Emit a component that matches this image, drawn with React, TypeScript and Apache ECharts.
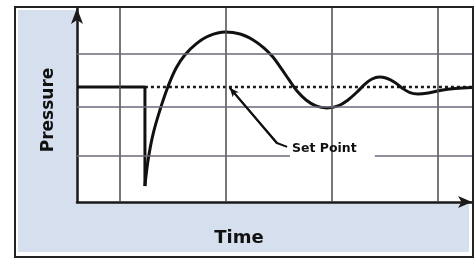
import React, { useEffect, useRef } from "react";
import * as echarts from "echarts";

// Time axis runs 0..100, pressure axis 0..100 (arbitrary units)
const stepTime = [0, 17.2, 17.2];
const stepPressure = [59.3, 59.3, 8.2];

const responseTime = [17.2, 18.0, 19.2, 21.0, 23.0, 25.1, 27.3, 30.1, 33.4, 37.5, 41.3, 44.6, 47.3, 49.6, 51.6, 53.7, 55.7, 58.0, 60.5, 63.3, 66.1, 68.6, 70.9, 72.9, 74.7, 76.5, 78.2, 80.3, 82.3, 84.3, 86.3, 88.9, 91.9, 95.7, 100];
const responsePressure = [8.2, 21.6, 34.5, 47.4, 59.3, 69.1, 75.8, 81.4, 85.6, 87.6, 86.6, 83.5, 79.4, 74.7, 69.1, 62.9, 57.2, 52.6, 49.5, 48.5, 49.5, 52.6, 56.7, 60.8, 63.4, 64.4, 63.9, 61.9, 58.8, 56.4, 55.7, 56.2, 57.5, 58.5, 59.0];

const setPointValue = 59.3;
const setPointStart = 17.2;

const gridTimes = [10.9, 37.7, 64.6, 91.4];
const gridPressures = [23.7, 49.0, 76.3];
// gap in the lowest grid line where the "Set Point" label sits
const labelGap = [53.9, 75.4];

// leader from label to set point line: end, elbow, arrow tip
const leaderTime = [53.2, 50.6, 38.7];
const leaderPressure = [28.4, 30.4, 58.8];

const yTitle = "Pressure";
const xTitle = "Time";
const setPointLabel = "Set Point";

export default function App() {
  const ref = useRef<HTMLDivElement>(null);
  useEffect(() => {
    if (!ref.current) return;
    const chart = echarts.init(ref.current, undefined, { renderer: "svg" });
    const hLines: any[] = [];
    gridPressures.forEach((p, i) => {
      if (i === 0) {
        hLines.push([{ coord: [0, p] }, { coord: [labelGap[0], p] }]);
        hLines.push([{ coord: [labelGap[1], p] }, { coord: [100, p] }]);
      } else {
        hLines.push([{ coord: [0, p] }, { coord: [100, p] }]);
      }
    });
    const font = "'DejaVu Sans', Verdana, sans-serif";
    chart.setOption({
      animation: false,
      grid: { left: 77, top: 8, width: 395, height: 194, show: true, backgroundColor: "#fff", borderWidth: 0 },
      xAxis: {
        type: "value", min: 0, max: 100,
        axisLine: { show: true, symbol: ["none", "arrow"], symbolSize: [9, 14], lineStyle: { color: "#1a1a1a", width: 2.5 } },
        axisTick: { show: false }, axisLabel: { show: false }, splitLine: { show: false },
      },
      yAxis: {
        type: "value", min: 0, max: 100,
        axisLine: { show: true, symbol: ["none", "arrow"], symbolSize: [9, 16], lineStyle: { color: "#1a1a1a", width: 2.5 } },
        axisTick: { show: false }, axisLabel: { show: false }, splitLine: { show: false },
      },
      graphic: [
        { type: "rect", z: -10, shape: { x: 15, y: 7, width: 458, height: 250 }, style: { fill: "#fff", stroke: "#222", lineWidth: 2 } },
        { type: "rect", z: -9, shape: { x: 18, y: 10, width: 451, height: 242 }, style: { fill: "#d6dfee" } },
        { type: "text", z: 10, x: 47, y: 110, rotation: Math.PI / 2, style: { text: yTitle, font: `bold 17px ${font}`, fill: "#111", textAlign: "center", textVerticalAlign: "middle" } },
        { type: "text", z: 10, x: 239, y: 236, style: { text: xTitle, font: `bold 18px ${font}`, fill: "#111", textAlign: "center", textVerticalAlign: "middle" } },
        { type: "text", z: 10, x: 292, y: 147, style: { text: setPointLabel, font: `bold 12.5px ${font}`, fill: "#111", textAlign: "left", textVerticalAlign: "middle" } },
      ],
      series: [
        {
          type: "line", data: [], z: 1, silent: true,
          markLine: {
            silent: true, symbol: "none", label: { show: false },
            lineStyle: { color: "#4a4a4a", width: 1.5, type: "solid" },
            data: gridTimes.map((t) => ({ xAxis: t })),
          },
        },
        {
          type: "line", data: [], z: 1, silent: true,
          markLine: {
            silent: true, symbol: "none", label: { show: false },
            lineStyle: { color: "#676b78", width: 1.5, type: "solid" },
            data: hLines,
          },
        },
        {
          type: "line", z: 3, showSymbol: false, symbol: "none",
          data: [[setPointStart, setPointValue], [100, setPointValue]],
          lineStyle: { color: "#1a1a1a", width: 2.5, type: [3, 3] },
        },
        {
          type: "line", z: 4, showSymbol: false, symbol: "none",
          data: stepTime.map((t, i) => [t, stepPressure[i]]),
          lineStyle: { color: "#111", width: 3 },
        },
        {
          type: "line", z: 4, showSymbol: false, symbol: "none", smooth: 0.4,
          data: responseTime.map((t, i) => [t, responsePressure[i]]),
          lineStyle: { color: "#111", width: 3 },
        },
        {
          type: "line", z: 5, showSymbol: false, symbol: "none",
          data: leaderTime.map((t, i) => [t, leaderPressure[i]]),
          lineStyle: { color: "#111", width: 2 },
          markLine: {
            silent: true, symbol: ["none", "arrow"], symbolSize: [6, 9], label: { show: false },
            lineStyle: { color: "#111", width: 2, type: "solid" },
            data: [[{ coord: [leaderTime[1], leaderPressure[1]] }, { coord: [leaderTime[2], leaderPressure[2]] }]],
          },
        },
      ],
    });
    return () => chart.dispose();
  }, []);
  return <div ref={ref} style={{ position: "fixed", left: 0, top: 0, width: 475, height: 259 }} />;
}
